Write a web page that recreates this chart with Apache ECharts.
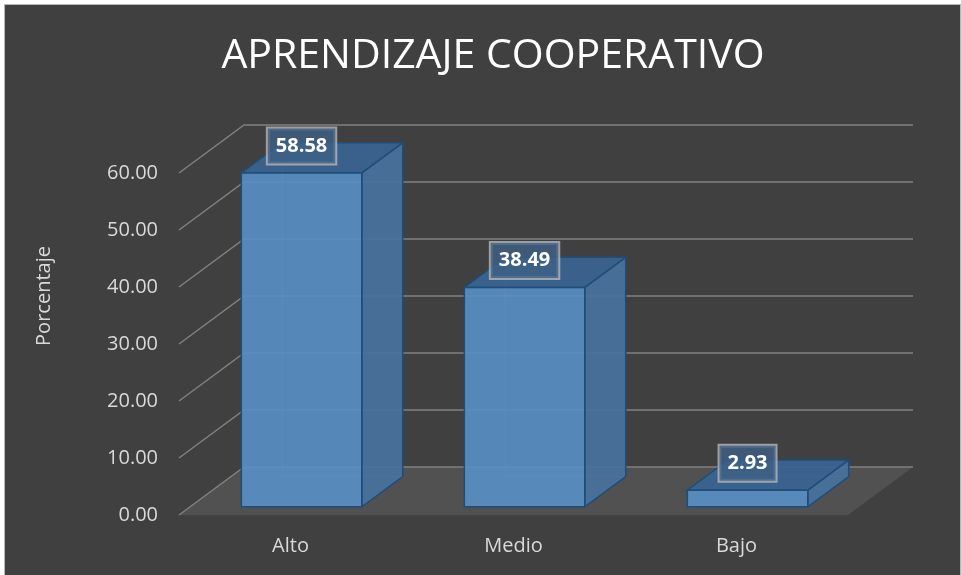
<!DOCTYPE html>
<html>
<head>
<meta charset="utf-8">
<script src="https://cdn.jsdelivr.net/npm/echarts@6/dist/echarts.min.js"></script>
<style>
  body { margin: 0; background: #ffffff; }
  #bg { position: absolute; left: 4px; top: 4px; width: 957px; height: 571px; box-sizing: border-box;
        border-left: 1px solid #b8b8b8; border-top: 1px solid #b8b8b8; border-right: 1px solid #b8b8b8; background: #404040; }
  #main { position: absolute; left: 0; top: 0; width: 961px; height: 575px; }
</style>
</head>
<body>
<div id="bg"></div>
<div id="main"></div>
<script>
var categories = ["Alto", "Medio", "Bajo"];
var values = [58.58, 38.49, 2.93];
var yTicks = [0, 10, 20, 30, 40, 50, 60];

// pseudo 3d depth (pixels) and bar depth range
var DX = 65, DY = -48;
var Z0 = 0.17, Z1 = 0.8;

var chart = echarts.init(document.getElementById("main"));

function wallItem(params, api) {
  var cs = params.coordSys;
  var v = api.value(1);
  var y = api.coord([0, v])[1];
  var lineStyle = { stroke: "#808080", lineWidth: 1.5, fill: "none" };
  var children = [];
  if (v === 0) {
    children.push({
      type: "polygon",
      shape: { points: [[cs.x, y], [cs.x + cs.width, y], [cs.x + cs.width + DX, y + DY], [cs.x + DX, y + DY]] },
      style: { fill: "#515151" }
    });
  }
  children.push({
    type: "polyline",
    shape: { points: [[cs.x, y], [cs.x + DX, y + DY], [cs.x + cs.width + DX, y + DY]] },
    style: lineStyle
  });
  return { type: "group", children: children };
}

function barItem(params, api) {
  var idx = api.value(0);
  var val = api.value(1);
  var c = api.coord([idx, val]);
  var b = api.coord([idx, 0]);
  var w = api.size([1, 0])[0] * 0.54;
  var fx = DX * Z0, fy = DY * Z0;
  var dx = DX * (Z1 - Z0), dy = DY * (Z1 - Z0);
  var x1 = c[0] - w / 2 + fx, x2 = c[0] + w / 2 + fx;
  var yt = c[1] + fy, yb = b[1] + fy;
  var edge = "#1f4e79";
  var hidden = { stroke: "rgba(120,175,230,0.45)", lineWidth: 1 };
  return {
    type: "group",
    children: [
      { type: "line", shape: { x1: x1 + dx, y1: yt + dy, x2: x1 + dx, y2: yb + dy }, style: hidden },
      { type: "line", shape: { x1: x1 + dx, y1: yb + dy, x2: x2 + dx, y2: yb + dy }, style: hidden },
      { type: "line", shape: { x1: x1, y1: yb, x2: x1 + dx, y2: yb + dy }, style: hidden },
      {
        type: "polygon",
        shape: { points: [[x2, yt], [x2 + dx, yt + dy], [x2 + dx, yb + dy], [x2, yb]] },
        style: { fill: "rgba(72,114,158,0.92)", stroke: edge, lineWidth: 1.5 }
      },
      {
        type: "polygon",
        shape: { points: [[x1, yt], [x2, yt], [x2 + dx, yt + dy], [x1 + dx, yt + dy]] },
        style: { fill: "rgba(58,100,146,0.92)", stroke: edge, lineWidth: 1.5 }
      },
      {
        type: "rect",
        shape: { x: x1, y: yt, width: x2 - x1, height: yb - yt },
        style: { fill: "rgba(88,143,199,0.9)", stroke: edge, lineWidth: 1.5 }
      },
      {
        type: "text",
        x: (x1 + x2) / 2,
        y: yt - 27,
        style: {
          text: val.toFixed(2),
          fill: "#ffffff",
          font: "bold 20px 'Open Sans'",
          align: "center",
          verticalAlign: "middle",
          backgroundColor: "rgba(62,96,134,0.8)",
          borderColor: "rgba(190,190,190,0.75)",
          borderWidth: 2,
          padding: [8, 8, 7, 8]
        }
      }
    ]
  };
}

var option = {
  backgroundColor: "transparent",
  animation: false,
  title: {
    text: "APRENDIZAJE COOPERATIVO",
    left: 488,
    top: 31,
    textAlign: "center",
    textStyle: { color: "#ffffff", fontSize: 41, fontWeight: "normal", fontFamily: "Open Sans" }
  },
  graphic: [{
    type: "text",
    x: 44,
    y: 296,
    rotation: Math.PI / 2,
    style: { text: "Porcentaje", fill: "#d9d9d9", font: "20px 'Open Sans'", align: "center", verticalAlign: "middle" }
  }],
  grid: { left: 179, top: 173, width: 669, height: 342 },
  xAxis: {
    type: "category",
    data: categories,
    axisLine: { show: false },
    axisTick: { show: false },
    axisLabel: { color: "#d9d9d9", fontSize: 20, fontFamily: "Open Sans", margin: 21 }
  },
  yAxis: {
    type: "value",
    min: 0,
    max: 60,
    interval: 10,
    axisLine: { show: false },
    axisTick: { show: false },
    splitLine: { show: false },
    axisLabel: {
      color: "#d9d9d9", fontSize: 20, fontFamily: "Open Sans", margin: 21,
      formatter: function (v) { return v.toFixed(2); }
    }
  },
  series: [
    {
      type: "custom",
      z: 1,
      silent: true,
      renderItem: wallItem,
      data: yTicks.map(function (v) { return [0, v]; })
    },
    {
      type: "custom",
      z: 5,
      renderItem: barItem,
      data: values.map(function (v, i) { return [i, v]; })
    }
  ]
};

chart.setOption(option);
</script>
</body>
</html>
